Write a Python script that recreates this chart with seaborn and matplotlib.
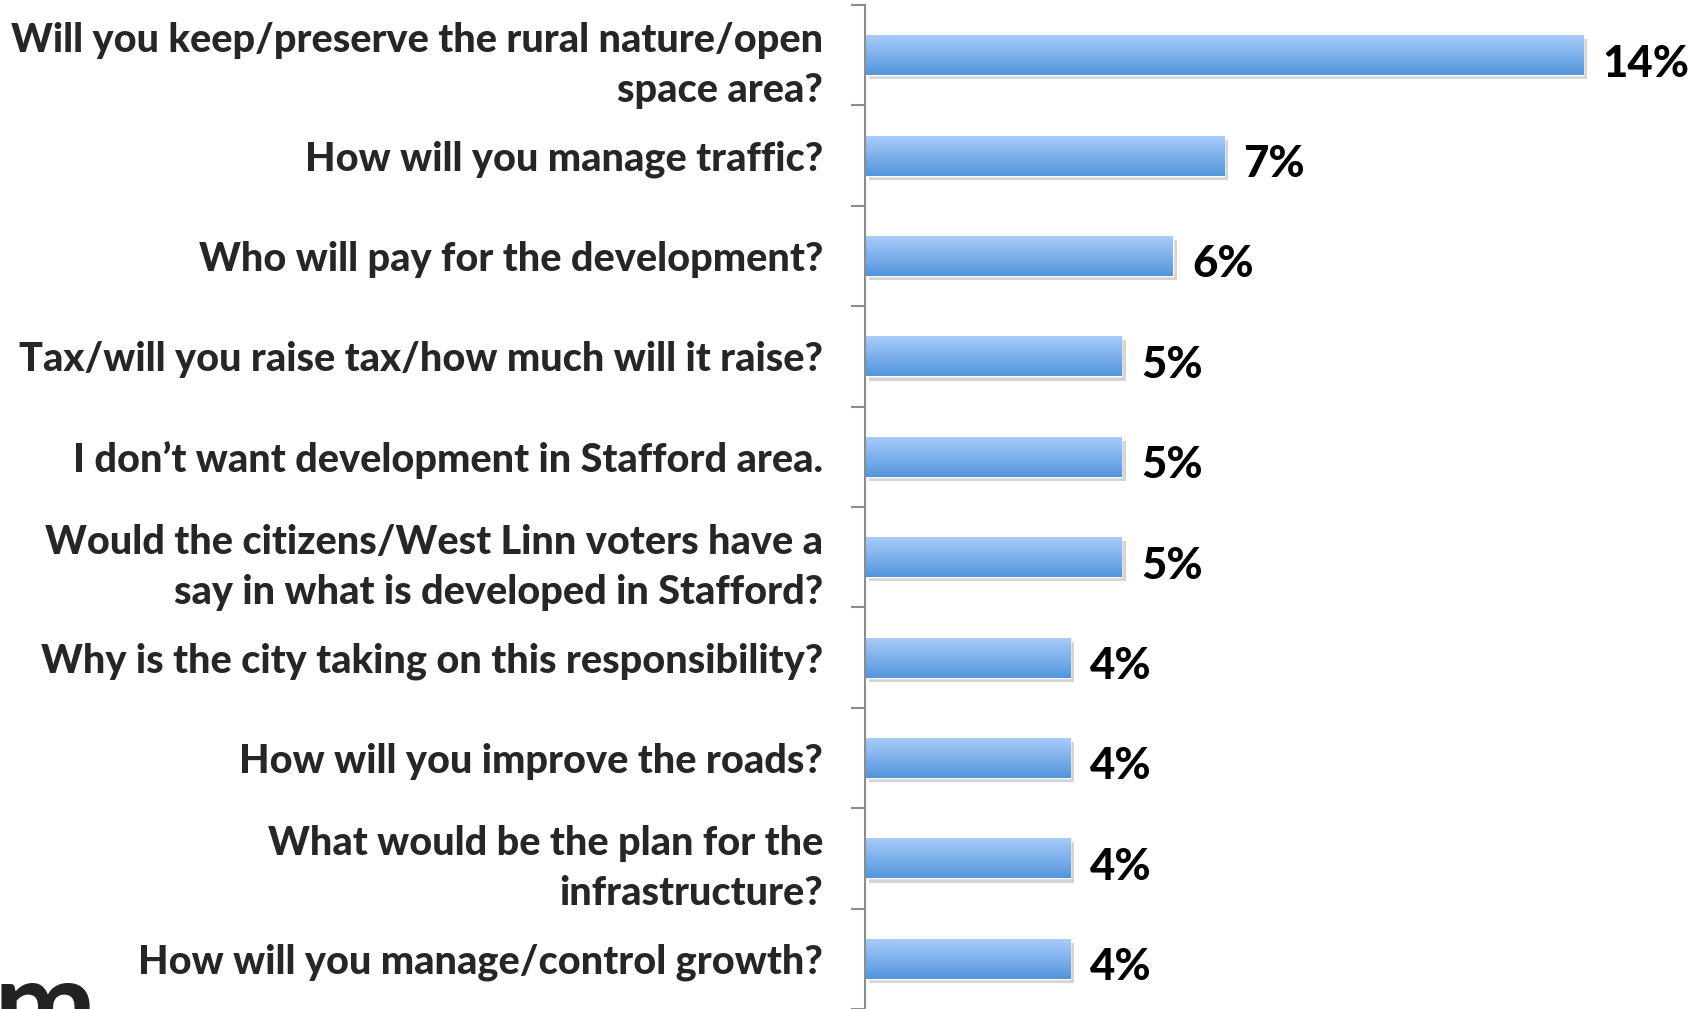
import numpy as np
import pandas as pd
import matplotlib
matplotlib.use("Agg")
import matplotlib.pyplot as plt
import matplotlib.patheffects as pe
from matplotlib.colors import LinearSegmentedColormap
import seaborn as sns

# data
questions = [
    "Will you keep/preserve the rural nature/open\nspace area?",
    "How will you manage traffic?",
    "Who will pay for the development?",
    "Tax/will you raise tax/how much will it raise?",
    "I don\u2019t want development in Stafford area.",
    "Would the citizens/West Linn voters have a\nsay in what is developed in Stafford?",
    "Why is the city taking on this responsibility?",
    "How will you improve the roads?",
    "What would be the plan for the\ninfrastructure?",
    "How will you manage/control growth?",
]
shares = [14, 7, 6, 5, 5, 5, 4, 4, 4, 4]
share_labels = ["14%", "7%", "6%", "5%", "5%", "5%", "4%", "4%", "4%", "4%"]

df = pd.DataFrame({"question": questions, "share": shares})

sns.set_style("white")
plt.rcParams["font.family"] = ["Lato", "DejaVu Sans"]

fig = plt.figure(figsize=(17.01, 10.09), dpi=100)
ax = fig.add_axes([865 / 1701, 0.0, 1 - 865 / 1701, 1 - 5 / 1009])

sns.barplot(data=df, y="question", x="share", orient="h", color="#7fb2ee",
            width=0.4, ax=ax, saturation=1)

# gradient fill + soft shadow on each bar
cmap = LinearSegmentedColormap.from_list("bar", ["#aacdfb", "#5395dc"])
grad = np.linspace(0, 1, 64).reshape(-1, 1)
for bar in ax.patches:
    bar.set_path_effects([pe.withSimplePatchShadow(offset=(3, -3), alpha=0.25, shadow_rgbFace="#555555"),
                          pe.Normal()])
    x0, y0 = bar.get_x(), bar.get_y()
    w, h = bar.get_width(), bar.get_height()
    im = ax.imshow(grad, cmap=cmap, aspect="auto", extent=(x0, x0 + w, y0 + h, y0),
                   zorder=bar.get_zorder() + 0.1)
    im.set_clip_path(bar)

vals = ax.bar_label(ax.containers[0], labels=share_labels, padding=14, fontsize=31.5,
                    color="black")
for t in vals:
    t.set_fontweight(900)
    t.xyann = (14, -6)

ax.set_xlim(0, 16.3)
ax.set_ylim(len(questions) - 0.5, -0.5)
ax.set_xlabel("")
ax.set_ylabel("")
ax.set_xticks([])

for s in ["top", "right", "bottom"]:
    ax.spines[s].set_visible(False)
ax.spines["left"].set_color("#8c8c8c")
ax.spines["left"].set_linewidth(1.5)

ax.tick_params(axis="y", which="major", left=False, length=0, pad=30, labelsize=28.5)
ax.set_yticks(list(np.arange(-0.5, len(questions) + 0.5, 1.0)), minor=True)
ax.tick_params(axis="y", which="minor", left=True, length=10, width=1.5, color="#8c8c8c")
for lbl in ax.get_yticklabels():
    lbl.set_fontweight(900)
    lbl.set_multialignment("right")
    lbl.set_linespacing(1.45)

# partial logo mark in the bottom-left corner
fig.text(-0.004, -0.058, "m", fontsize=88, fontweight="bold", color="#222222",
         ha="left", va="bottom")

fig.savefig("out.png", dpi=100)
